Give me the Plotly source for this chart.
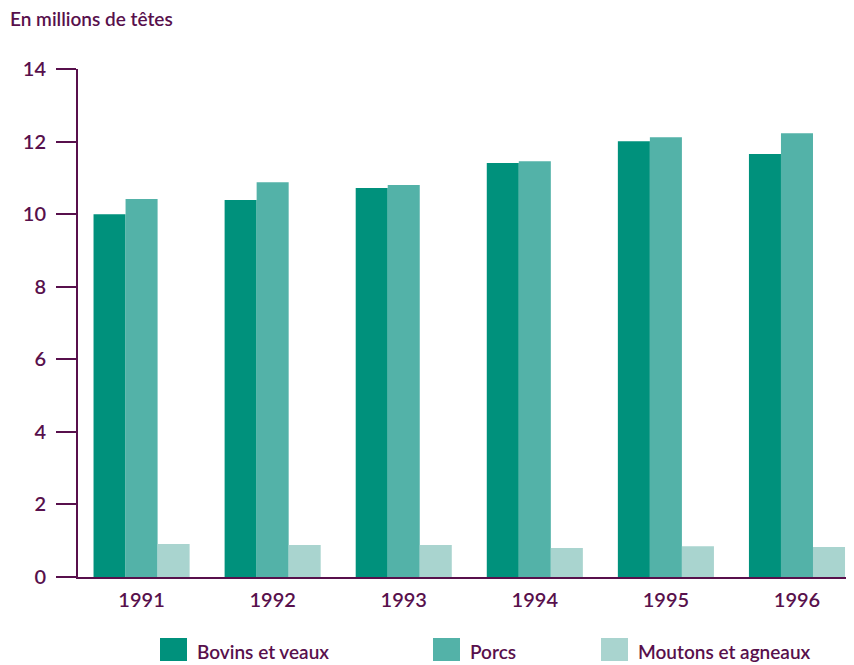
import plotly.graph_objects as go

years = ["1991", "1992", "1993", "1994", "1995", "1996"]
series_names = ["Bovins et veaux", "Porcs", "Moutons et agneaux"]
bovins = [10.0, 10.39, 10.72, 11.41, 12.01, 11.66]
porcs = [10.42, 10.88, 10.80, 11.46, 12.12, 12.23]
moutons = [0.91, 0.88, 0.88, 0.80, 0.85, 0.83]
y_ticks = [0, 2, 4, 6, 8, 10, 12, 14]
colors = ["#00917c", "#53b2a8", "#a9d4cf"]
purple = "#58104c"
FONT = "Lato, sans-serif"
WEIGHT = 600

fig = go.Figure()
for name, vals, col in zip(series_names, [bovins, porcs, moutons], colors):
    fig.add_trace(go.Bar(x=years, y=vals, name=name, marker=dict(color=col, line=dict(width=0)),
                         showlegend=False))

OFF = 8  # page body margin
W, H = 854 - OFF, 665 - OFF
L, R, T = 78 - OFF, 0, 69 - OFF
B = H - T - 508
pw, ph = W - L - R, 508

def px_x(px):
    return (px - OFF - L) / pw

def px_y(py):
    return (T + ph - (py - OFF)) / ph

# custom legend
leg_x = [160, 433, 601]
for name, col, px in zip(series_names, colors, leg_x):
    fig.add_shape(type="rect", xref="paper", yref="paper",
                  x0=px_x(px), x1=px_x(px + 27),
                  y0=px_y(661), y1=px_y(638),
                  fillcolor=col, line=dict(width=0))
    fig.add_annotation(text=name, xref="paper", yref="paper",
                       x=px_x(px + 35), y=px_y(651),
                       xanchor="left", yanchor="middle", showarrow=False,
                       font=dict(family=FONT, size=19, color=purple, weight=WEIGHT))

fig.add_annotation(text="En millions de têtes", xref="paper", yref="paper",
                   x=px_x(8), y=px_y(19), xanchor="left", yanchor="middle",
                   showarrow=False, font=dict(family=FONT, size=19, color=purple, weight=WEIGHT))

fig.update_layout(
    width=W, height=H,
    margin=dict(l=L, r=R, t=T, b=B),
    paper_bgcolor="white", plot_bgcolor="white",
    barmode="group", bargap=0.267, bargroupgap=0,
    xaxis=dict(range=[-0.485, 5.435], showgrid=False, zeroline=False, showline=True,
               linecolor=purple, linewidth=2, ticks="", ticklabelstandoff=4,
               tickfont=dict(family=FONT, size=20, color=purple, weight=WEIGHT)),
    yaxis=dict(range=[0, 14], tickvals=y_ticks, showgrid=False, zeroline=False,
               showline=True, linecolor=purple, linewidth=2, ticks="outside",
               ticklen=20, tickwidth=2, tickcolor=purple, ticklabelstandoff=6,
               tickfont=dict(family=FONT, size=20, color=purple, weight=WEIGHT)),
)

fig.write_html("out.html")
